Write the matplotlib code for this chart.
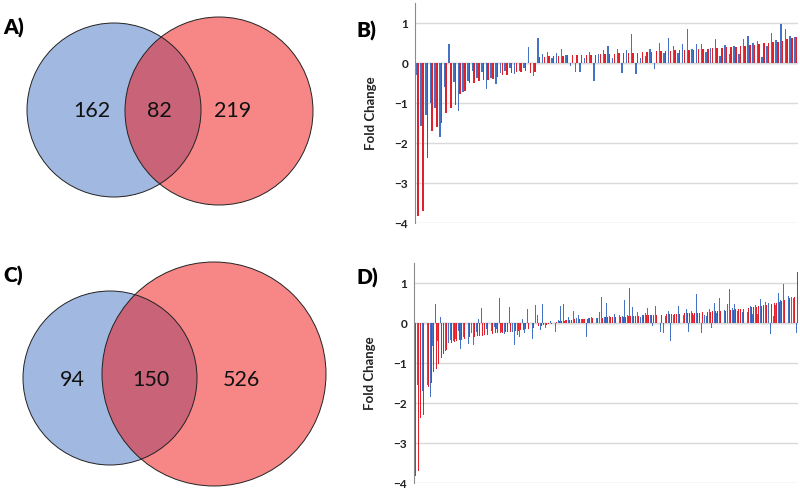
import numpy as np
import matplotlib
matplotlib.use('Agg')
import matplotlib.pyplot as plt
from matplotlib.patches import Circle

# Venn counts: only blue, shared, only red
venn_a = [162, 82, 219]
venn_c = [94, 150, 526]

# Panel B: fold change of the 82 shared proteins
b_blue = [-0.3, -1.57, -1.3, -1.0, -1.13, -1.85, -0.6, 0.47, -0.47, -1.2,
          -0.72, -0.45, -0.2, -0.38, -0.22, -0.65, -0.38, -0.52, -0.25, -0.2,
          -0.13, -0.27, -0.2, -0.13, 0.4, -0.33, 0.63, 0.22, 0.28, 0.12,
          0.25, 0.35, 0.2, -0.08, -0.23, -0.23, 0.13, 0.28, -0.45, 0.22,
          0.32, 0.43, 0.13, 0.35, -0.25, 0.32, 0.72, -0.27, 0.13, 0.18,
          0.35, -0.15, 0.5, 0.25, 0.63, 0.43, 0.25, 0.48, 0.85, 0.35,
          0.47, 0.48, 0.28, 0.37, 0.6, 0.17, 0.45, 0.22, 0.43, 0.23,
          0.6, 0.68, 0.5, 0.55, 0.16, 0.43, 0.75, 0.57, 0.98, 0.86,
          0.68, 0.65]
b_red = [-3.82, -3.7, -2.38, -1.7, -1.6, -1.5, -1.25, -1.13, -1.05, -0.77,
         -0.7, -0.5, -0.5, -0.45, -0.43, -0.42, -0.4, -0.35, -0.3, -0.3,
         -0.25, -0.23, -0.22, -0.2, -0.25, -0.22, 0.14, 0.15, 0.17, 0.18,
         0.18, 0.18, 0.19, 0.2, 0.2, 0.2, 0.2, 0.2, 0.2, 0.22,
         0.22, 0.23, 0.23, 0.25, 0.25, 0.25, 0.26, 0.26, 0.27, 0.28,
         0.28, 0.29, 0.3, 0.31, 0.31, 0.32, 0.32, 0.32, 0.33, 0.33,
         0.34, 0.34, 0.34, 0.37, 0.37, 0.37, 0.39, 0.4, 0.41, 0.42,
         0.42, 0.45, 0.46, 0.47, 0.49, 0.5, 0.53, 0.53, 0.55, 0.61,
         0.63, 0.65]

# Panel D: fold change of the 150 shared proteins
d_blue = [-0.3, -1.55, -1.63, -1.7, -1.12, -1.55, -1.85, -0.57, 0.47, -0.45,
          0.15, -1.22, -0.7, -0.5, -0.42, -0.45, -0.4, -0.2, -0.65, -0.35,
          -0.15, -0.53, -0.25, -0.55, -0.22, 0.1, 0.38, -0.2, -0.15, -0.25,
          -0.2, -0.1, -0.15, 0.63, -0.22, -0.28, -0.15, 0.4, -0.22, -0.55,
          -0.3, -0.35, 0.1, -0.25, 0.35, 0.28, -0.4, 0.45, 0.2, -0.18,
          0.47, -0.13, -0.08, 0.05, 0.02, -0.22, 0.08, 0.43, 0.48, 0.08,
          0.15, 0.13, 0.3, 0.12, 0.2, 0.1, 0.1, -0.35, 0.13, 0.15,
          0.28, 0.12, 0.28, 0.65, 0.15, 0.5, 0.17, 0.15, 0.23, 0.47,
          0.2, 0.17, 0.58, 0.2, 0.87, 0.4, 0.18, 0.28, 0.15, 0.2,
          0.25, 0.37, 0.2, -0.08, 0.43, 0.25, -0.23, -0.25, 0.18, 0.3,
          -0.45, 0.2, 0.28, 0.43, 0.15, 0.2, 0.35, -0.22, 0.3, 0.2,
          0.72, 0.53, -0.25, 0.2, 0.18, 0.35, -0.13, 0.5, 0.25, 0.62,
          0.4, 0.33, 0.48, 0.85, 0.38, 0.48, 0.3, 0.35, 0.28, 0.6,
          0.28, 0.43, 0.23, 0.45, 0.23, 0.6, 0.68, 0.53, 0.5, -0.27,
          0.17, 0.45, 0.75, 0.58, 0.98, 0.85, 0.68, 0.65, 0.63, -0.25]
d_red = [-3.82, -3.7, -2.38, -2.3, -1.68, -1.6, -1.5, -1.23, -1.15, -1.03,
         -0.88, -0.78, -0.67, -0.55, -0.5, -0.48, -0.45, -0.43, -0.42, -0.4,
         -0.38, -0.36, -0.35, -0.34, -0.33, -0.33, -0.32, -0.3, -0.29, -0.28,
         -0.27, -0.26, -0.25, -0.25, -0.24, -0.23, -0.22, -0.22, -0.21, -0.2,
         -0.19, -0.18, -0.17, -0.16, -0.15, -0.13, -0.12, -0.1, -0.08, -0.07,
         -0.05, -0.04, -0.03, -0.02, 0.02, 0.03, 0.04, 0.05, 0.06, 0.07,
         0.08, 0.08, 0.09, 0.09, 0.1, 0.1, 0.11, 0.11, 0.12, 0.12,
         0.12, 0.13, 0.13, 0.13, 0.14, 0.14, 0.14, 0.15, 0.15, 0.15,
         0.16, 0.16, 0.16, 0.17, 0.17, 0.17, 0.18, 0.18, 0.18, 0.19,
         0.19, 0.19, 0.2, 0.2, 0.2, 0.21, 0.21, 0.21, 0.22, 0.22,
         0.22, 0.23, 0.23, 0.23, 0.24, 0.24, 0.24, 0.25, 0.25, 0.25,
         0.26, 0.26, 0.27, 0.27, 0.28, 0.28, 0.29, 0.29, 0.3, 0.3,
         0.31, 0.31, 0.32, 0.32, 0.33, 0.34, 0.35, 0.35, 0.36, 0.37,
         0.38, 0.39, 0.4, 0.41, 0.42, 0.43, 0.44, 0.45, 0.47, 0.48,
         0.5, 0.5, 0.52, 0.55, 0.58, 0.6, 0.62, 0.64, 0.65, 1.27]

plt.rcParams['font.family'] = ['Lato', 'DejaVu Sans']

W, H = 800, 490
BLUE = '#4472C4'
RED = '#F01010'
BAR_RED = '#E0202A'

fig = plt.figure(figsize=(8, 4.9), dpi=100)

# left side: the two Venn diagrams, drawn in pixel units
vax = fig.add_axes([0, 0, 360 / W, 1])
vax.set_xlim(0, 360)
vax.set_ylim(H, 0)
vax.axis('off')


def venn(counts, blue_c, blue_r, red_c, red_r, label_x, label_y):
    vax.add_patch(Circle(blue_c, blue_r, facecolor=BLUE, alpha=0.5, edgecolor='none'))
    vax.add_patch(Circle(red_c, red_r, facecolor=RED, alpha=0.5, edgecolor='none'))
    for c, r in [(blue_c, blue_r), (red_c, red_r)]:
        vax.add_patch(Circle(c, r, facecolor='none', edgecolor='#222222', lw=0.7))
    for x, n in zip(label_x, counts):
        vax.text(x, label_y, str(n), ha='center', va='center', fontsize=15.5, color='#111111')


venn(venn_a, (114, 110), 87, (219, 111), 94, [92, 159, 233], 111)
venn(venn_c, (110, 378), 87, (214, 374), 112, [72, 151, 241], 380)


def fold_bars(ax, blue, red):
    x = np.arange(1, len(red) + 1)
    ax.bar(x - 0.18, blue, width=0.32, color=BLUE, linewidth=0)
    ax.bar(x + 0.18, red, width=0.32, color=BAR_RED, linewidth=0)
    ax.set_xlim(0.5, len(red) + 0.5)
    ax.set_ylim(-4, 1.5)
    ax.set_yticks(range(-4, 2))
    ax.grid(axis='y', color='#D9D9D9', lw=1)
    ax.set_axisbelow(True)
    ax.axhline(0, color='#BFBFBF', lw=1, zorder=0.5)
    for s in ['top', 'right', 'bottom']:
        ax.spines[s].set_visible(False)
    ax.spines['left'].set_color('#8C8C8C')
    ax.set_xticks([])
    ax.tick_params(axis='y', length=0, labelsize=8.5, pad=5, labelcolor='#222222')
    for t in ax.get_yticklabels():
        t.set_fontweight('bold')
    ax.set_ylabel('Fold Change', fontsize=9.5, fontweight='bold', color='#222222')
    ax.yaxis.set_label_coords(-0.1, 0.5)


ax_b = fig.add_axes([415 / W, (H - 223) / H, 383 / W, 220 / H])
fold_bars(ax_b, b_blue, b_red)
ax_d = fig.add_axes([414 / W, (H - 483) / H, 384 / W, 220 / H])
fold_bars(ax_d, d_blue, d_red)

for lab, x, y in [('A)', 3, 28), ('B)', 357, 31), ('C)', 3, 276), ('D)', 357, 278)]:
    fig.text(x / W, 1 - y / H, lab, fontsize=15, fontweight='heavy', va='center', ha='left')

fig.savefig('out.png', dpi=100)
